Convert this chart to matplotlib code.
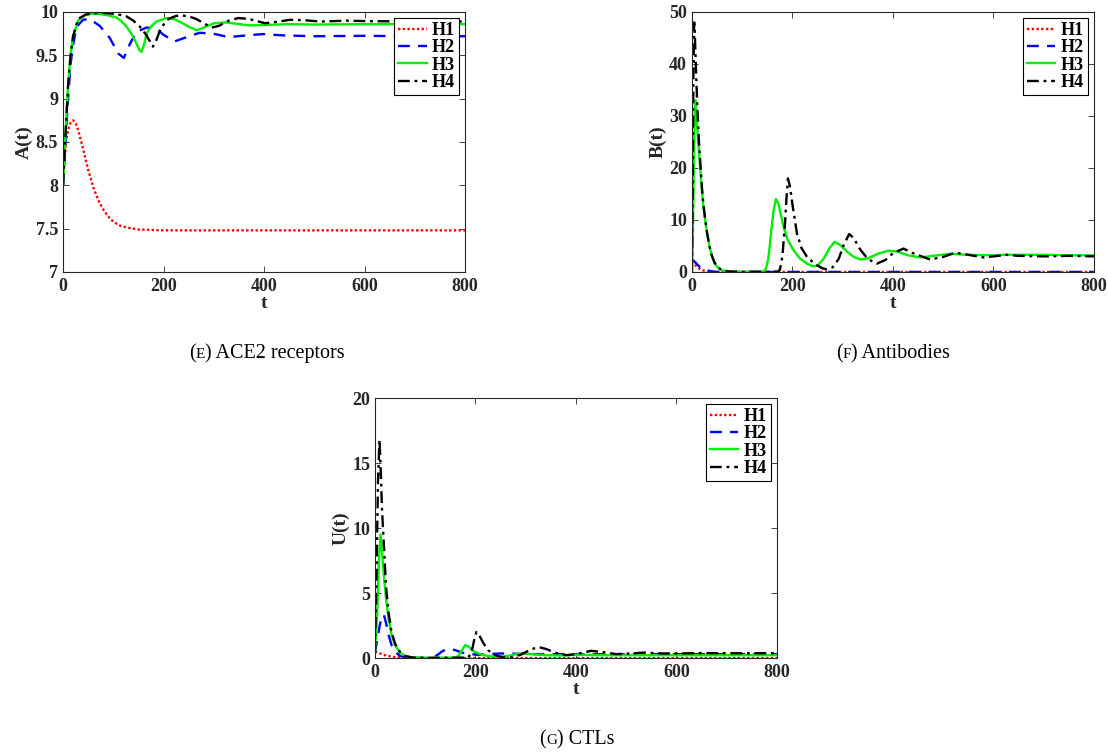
import matplotlib
matplotlib.use('Agg')
import matplotlib.pyplot as plt
from matplotlib.ticker import FormatStrFormatter

# values: (t, value) pairs per curve

# ---- (E) ACE2 receptors A(t)
a_t1 = [0, 3, 6, 10, 15, 20, 25, 30, 40, 50, 60, 70, 80, 90, 100, 115, 130, 150, 175, 200, 300, 400, 500, 600, 700, 800]
a_h1 = [8.0, 8.3, 8.5, 8.64, 8.72, 8.75, 8.72, 8.64, 8.42, 8.18, 7.98, 7.83, 7.72, 7.64, 7.58, 7.53, 7.51, 7.49, 7.485,
        7.48, 7.48, 7.48, 7.48, 7.48, 7.48, 7.48]
a_t2 = [0, 5, 10, 15, 20, 27, 40, 53, 73, 93, 110, 121, 133, 146, 166, 186, 199, 222, 246, 272, 299, 329, 365, 398,
        438, 500, 600, 700, 800]
a_h2 = [8.0, 8.5, 9.0, 9.4, 9.62, 9.83, 9.91, 9.92, 9.84, 9.70, 9.52, 9.47, 9.63, 9.77, 9.82, 9.81, 9.74, 9.66, 9.71,
        9.76, 9.75, 9.71, 9.73, 9.745, 9.73, 9.72, 9.725, 9.72, 9.72]
a_t3 = [0, 5, 10, 15, 20, 30, 45, 60, 75, 90, 105, 115, 125, 135, 145, 152, 156, 162, 166, 175, 186, 206, 220, 235,
        250, 266, 280, 300, 325, 350, 372, 400, 450, 500, 600, 700, 800]
a_h3 = [8.0, 8.6, 9.15, 9.5, 9.72, 9.9, 9.97, 9.98, 9.975, 9.96, 9.94, 9.9, 9.84, 9.76, 9.65, 9.56, 9.54, 9.64, 9.75,
        9.83, 9.89, 9.93, 9.92, 9.88, 9.83, 9.79, 9.82, 9.87, 9.88, 9.86, 9.845, 9.85, 9.86, 9.855, 9.86, 9.86, 9.86]
a_t4 = [0, 5, 10, 15, 20, 30, 45, 60, 80, 100, 115, 126, 140, 153, 165, 172, 179, 186, 195, 210, 225, 236, 250, 265,
        280, 296, 310, 330, 349, 370, 402, 430, 452, 480, 511, 540, 564, 600, 700, 800]
a_h4 = [8.0, 8.6, 9.15, 9.5, 9.72, 9.92, 9.97, 9.985, 9.99, 9.98, 9.965, 9.95, 9.9, 9.83, 9.74, 9.67, 9.60, 9.68,
        9.82, 9.92, 9.955, 9.96, 9.95, 9.92, 9.87, 9.82, 9.84, 9.9, 9.93, 9.92, 9.87, 9.89, 9.91, 9.905, 9.89, 9.895,
        9.90, 9.895, 9.89, 9.89]

# ---- (F) Antibodies B(t)
b_t1 = [0, 5, 10, 15, 20, 30, 40, 60, 800]
b_h1 = [2.1, 1.5, 1.0, 0.6, 0.35, 0.1, 0.02, 0.0, 0.0]
b_t2 = [0, 5, 10, 15, 20, 30, 40, 50, 60, 800]
b_h2 = [2.5, 2.0, 1.5, 1.0, 0.7, 0.35, 0.1, 0.02, 0.0, 0.0]
b_t3 = [0, 2, 4, 6, 7, 9, 12, 16, 20, 23, 27, 30, 35, 40, 45, 50, 60, 75, 100, 140, 147, 152, 157, 162, 167, 172,
        177, 182, 190, 202, 215, 229, 240, 250, 262, 274, 284, 295, 310, 322, 335, 350, 370, 391, 410, 430, 454, 480,
        514, 550, 600, 625, 700, 750, 800]
b_h3 = [0.0, 8, 22, 32, 33, 30, 25.5, 20.5, 15.5, 12.5, 9.5, 7.5, 4.8, 3.0, 1.8, 1.0, 0.3, 0.08, 0.02, 0.05, 0.5, 2.5,
        7, 11.5, 14.0, 13.2, 11, 8.8, 6.3, 4.2, 2.6, 1.6, 1.1, 1.2, 2.5, 4.6, 5.8, 5.2, 3.8, 2.9, 2.4, 2.6, 3.5, 4.1,
        3.9, 3.2, 2.8, 3.1, 3.5, 3.3, 3.2, 3.3, 3.3, 3.2, 3.2]
b_t4 = [0, 1.5, 3, 4.5, 6, 8, 11, 14, 16, 20, 23, 27, 30, 35, 40, 45, 50, 60, 75, 100, 170, 175, 180, 185, 188, 191,
        195, 200, 209, 218, 229, 245, 260, 268, 280, 292, 302, 313, 322, 335, 350, 368, 385, 400, 421, 440, 474, 500,
        524, 550, 580, 600, 626, 650, 700, 750, 800]
b_h4 = [0.0, 15, 38, 48, 45, 39, 31, 25, 22, 16, 12.8, 9.7, 7.6, 4.9, 3.0, 1.8, 1.0, 0.3, 0.08, 0.02, 0.05, 0.4, 3, 9,
        14, 18, 16.5, 13, 7.4, 4.6, 2.9, 1.5, 0.7, 0.5, 0.9, 2.5, 5.2, 7.3, 6.5, 4.3, 2.5, 1.6, 2.3, 3.6, 4.5, 3.6,
        2.4, 2.9, 3.7, 3.3, 2.8, 3.0, 3.3, 3.1, 3.0, 3.1, 3.0]

# ---- (G) CTLs U(t)
u_t1 = [0, 10, 20, 30, 40, 60, 80, 800]
u_h1 = [0.5, 0.35, 0.22, 0.13, 0.07, 0.02, 0.0, 0.0]
u_t2 = [0, 5, 10, 15, 18, 22, 27, 33, 40, 50, 65, 100, 115, 125, 135, 149, 160, 175, 190, 205, 225, 250, 280, 320,
        360, 400, 500, 600, 800]
u_h2 = [0.4, 1.5, 2.6, 3.3, 3.3, 2.7, 1.8, 1.0, 0.5, 0.15, 0.03, 0.0, 0.05, 0.25, 0.55, 0.72, 0.6, 0.4, 0.3, 0.25,
        0.3, 0.35, 0.33, 0.3, 0.3, 0.28, 0.3, 0.3, 0.3]
u_t3 = [0, 4, 8, 11, 14, 18, 22, 27, 33, 40, 50, 60, 75, 100, 160, 167, 173, 180, 187, 195, 210, 225, 240, 255, 270,
        285, 295, 310, 340, 370, 400, 450, 500, 600, 800]
u_h3 = [0.4, 3, 7.5, 9.5, 8.2, 6.2, 4.6, 3.0, 1.8, 1.0, 0.4, 0.15, 0.04, 0.01, 0.03, 0.2, 0.6, 1.0, 0.85, 0.55, 0.28,
        0.15, 0.1, 0.12, 0.2, 0.32, 0.35, 0.3, 0.22, 0.2, 0.25, 0.22, 0.22, 0.22, 0.22]
u_t4 = [0, 3, 6, 9, 11, 14, 18, 22, 27, 33, 40, 50, 60, 75, 100, 185, 192, 197, 202, 207, 215, 225, 240, 255, 270,
        290, 310, 325, 340, 360, 380, 400, 430, 455, 480, 510, 535, 570, 600, 650, 700, 800]
u_h4 = [0.4, 6, 13.5, 16.8, 15, 11.5, 8.5, 5.5, 3.5, 2.0, 1.1, 0.45, 0.15, 0.04, 0.01, 0.03, 0.4, 1.3, 2.0, 1.8, 1.2,
        0.6, 0.2, 0.05, 0.05, 0.25, 0.65, 0.85, 0.7, 0.4, 0.22, 0.3, 0.55, 0.45, 0.3, 0.35, 0.42, 0.35, 0.35, 0.38,
        0.37, 0.37]

labels = ['H1', 'H2', 'H3', 'H4']
colors = ['#ff0000', '#0000ff', '#00ee00', '#000000']
styles = [(0, (1, 1)), (0, (5, 3.5)), '-', (0, (5, 2, 1.2, 2))]

plt.rcParams['font.family'] = ['Liberation Serif', 'DejaVu Serif']
plt.rcParams['font.weight'] = 'bold'
plt.rcParams['axes.labelweight'] = 'bold'

fig = plt.figure(figsize=(11.08, 7.54), dpi=100)


def make_panel(rect, series, ylim, yticks, ylabel):
    ax = fig.add_axes(rect)
    for (t, v), lab, c, ls in zip(series, labels, colors, styles):
        ax.plot(t, v, color=c, linestyle=ls, linewidth=1.7, label=lab)
    ax.set_xlim(0, 800)
    ax.set_ylim(*ylim)
    ax.set_xticks([0, 200, 400, 600, 800])
    ax.set_yticks(yticks)
    ax.yaxis.set_major_formatter(FormatStrFormatter('%g'))
    ax.tick_params(direction='in', top=True, right=True, length=4, width=0.6,
                   labelsize=13, colors='#262626', labelcolor='#262626')
    ax.tick_params(axis='x', pad=4)
    ax.tick_params(axis='y', pad=3.5)
    for s in ax.spines.values():
        s.set_linewidth(0.8)
        s.set_color('#262626')
    ax.set_xlabel('t', fontsize=14, labelpad=0, color='#262626')
    ax.set_ylabel(ylabel, fontsize=14, labelpad=2, color='#262626')
    leg = ax.legend(loc='upper right', fontsize=13, frameon=True, fancybox=False,
                    edgecolor='black', framealpha=1, borderaxespad=0.35,
                    handlelength=1.6, handletextpad=0.3, labelspacing=0.02,
                    borderpad=0.2)
    leg.get_frame().set_linewidth(0.8)
    return ax


make_panel([0.0569, 0.6393, 0.3628, 0.3448],
           [(a_t1, a_h1), (a_t2, a_h2), (a_t3, a_h3), (a_t4, a_h4)],
           (7, 10), [7, 7.5, 8, 8.5, 9, 9.5, 10], 'A(t)')
make_panel([0.6245, 0.6393, 0.3628, 0.3448],
           [(b_t1, b_h1), (b_t2, b_h2), (b_t3, b_h3), (b_t4, b_h4)],
           (0, 50), [0, 10, 20, 30, 40, 50], 'B(t)')
make_panel([0.3384, 0.1273, 0.3628, 0.3448],
           [(u_t1, u_h1), (u_t2, u_h2), (u_t3, u_h3), (u_t4, u_h4)],
           (0, 20), [0, 5, 10, 15, 20], 'U(t)')


def caption(xc, yb, letter, rest):
    """ Draw '(x) rest' centred at xc with the letter as a small capital. """
    r = fig.canvas.get_renderer()
    parts = [('(', 14.5), (letter, 11), (') ' + rest, 14.5)]
    texts = [fig.text(0, yb, s, fontsize=fs, fontweight='normal', va='baseline')
             for s, fs in parts]
    widths = [t.get_window_extent(r).width for t in texts]
    x = xc - sum(widths) / 2
    for t, w in zip(texts, widths):
        t.set_x(x / fig.bbox.width)
        x += w


caption(267, 1 - 358 / 754, 'E', 'ACE2 receptors')
caption(893, 1 - 358 / 754, 'F', 'Antibodies')
caption(577, 1 - 744 / 754, 'G', 'CTLs')

fig.savefig('out.png', dpi=100)
